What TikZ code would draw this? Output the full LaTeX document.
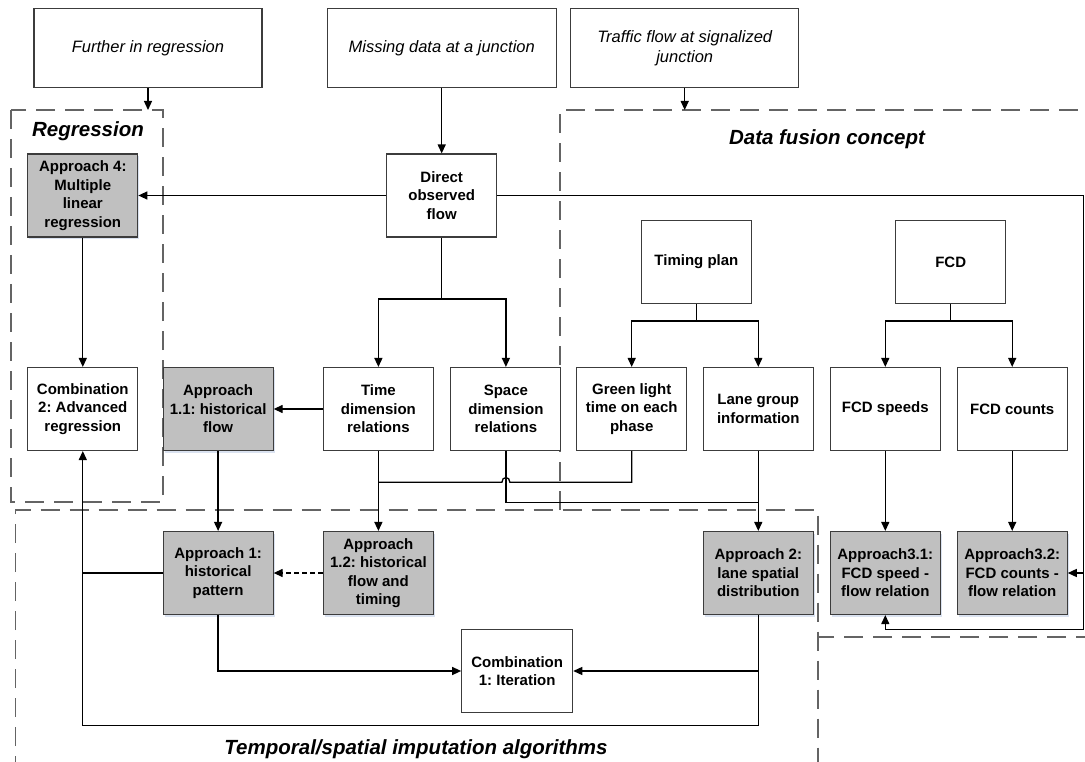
\documentclass[tikz,border=0pt]{standalone}
\usepackage{fontspec}
\setmainfont{Liberation Sans}
\usetikzlibrary{arrows.meta,shadows}
\definecolor{boxgray}{RGB}{192,192,192}
\definecolor{edgegray}{RGB}{60,60,60}
\definecolor{dashgray}{RGB}{100,100,100}
\definecolor{shadowblue}{RGB}{218,226,240}
\frenchspacing
\begin{document}
\begin{tikzpicture}[x=1pt,y=-1pt,
 box/.style={draw=edgegray, line width=1.1pt, fill=white, minimum width=110pt, minimum height=83pt, inner sep=1pt, align=center, font=\fontsize{15}{18.5}\selectfont\bfseries},
 gbox/.style={box, fill=boxgray, drop shadow={shadow xshift=1.5pt, shadow yshift=-2pt, fill=shadowblue, opacity=1}},
 topbox/.style={draw=edgegray, line width=1.1pt, fill=white, minimum height=79pt, inner sep=1pt, align=center, font=\fontsize{16.5}{20}\selectfont\itshape},
 conn/.style={line width=1.3pt, -{Triangle[length=9pt,width=8pt]}},
 plain/.style={line width=1.3pt},
 zone/.style={draw=dashgray, line width=1.3pt, dash pattern=on 19pt off 10pt},
 zonetitle/.style={font=\fontsize{20.5}{24}\selectfont\bfseries\itshape}
]
\useasboundingbox (0,0) rectangle (1085,762);

% dashed zones
\draw[zone] (11,110) rectangle (163,502);
\draw[zone] (1095,637) -- (818,637);
\draw[zone] (560,510) -- (560,110) -- (1095,110);
\draw[zone] (15.7,775) -- (15.7,510) -- (818,510) -- (818,775);

% zone titles
\node[zonetitle] (tReg) at (88,131.5) {Regression};
\node[zonetitle] (tDF) at (827,139) {Data fusion concept};
\node[zonetitle] (tTS) at (416,749) {Temporal/spatial imputation algorithms};

% top boxes
\node[topbox, minimum width=228pt] (fur) at (148,48) {Further in regression};
\node[topbox, minimum width=229pt] (mis) at (441.7,48) {Missing data at a junction};
\node[topbox, minimum width=228pt] (tra) at (684.7,48) {Traffic flow at signalized\\junction};

% row 1
\node[gbox] (a4) at (82.8,195.5) {Approach 4:\\Multiple\\linear\\regression};
\node[box] (dof) at (441.7,195.5) {Direct\\observed\\flow};
\node[box] (tp) at (696.4,262) {Timing plan};
\node[box] (fcd) at (950.7,262) {FCD};

% row 2
\node[box] (c2) at (82.8,409) {Combination\\2: Advanced\\regression};
\node[gbox] (a11) at (218.1,409) {Approach\\1.1: historical\\flow};
\node[box] (tdr) at (378.4,409) {Time\\dimension\\relations};
\node[box] (sdr) at (505.9,409) {Space\\dimension\\relations};
\node[box] (glt) at (631.7,409) {Green light\\time on each\\phase};
\node[box] (lgi) at (758.3,409) {Lane group\\information};
\node[box] (fs) at (885.3,409) {FCD speeds};
\node[box] (fc) at (1012.2,409) {FCD counts};

% row 3
\node[gbox] (a1) at (218.1,573) {Approach 1:\\historical\\pattern};
\node[gbox] (a12) at (378.4,573) {Approach\\1.2: historical\\flow and\\timing};
\node[gbox] (a2) at (758.3,573) {Approach 2:\\lane spatial\\distribution};
\node[gbox] (a31) at (885.3,573) {Approach3.1:\\FCD speed -\\flow relation};
\node[gbox] (a32) at (1012.2,573) {Approach3.2:\\FCD counts -\\flow relation};
\node[box, minimum width=111pt] (c1) at (517.2,671) {Combination\\1: Iteration};

% coordinates
\coordinate (regtop) at (148,110);
\coordinate (dftop) at (684.7,110);
\coordinate (rr1) at (1083.3,195.5);
\coordinate (rr2) at (1083.3,629.5);
\coordinate (dsplit) at (441.7,299);
\coordinate (tsplit) at (696.4,321);
\coordinate (fsplit) at (950.7,321);
\coordinate (gj) at (631.7,482.3);
\coordinate (sj) at (505.9,502.7);
\coordinate (bl) at (82.8,725.7);
\coordinate (br) at (758.3,725.7);

% connectors
\draw[conn] (fur) -- (regtop);
\draw[conn] (mis) -- (dof);
\draw[conn] (tra) -- (dftop);
\draw[conn] (dof) -- (a4);
\draw[conn] (dof.east) -- (rr1) -- (rr2) -- (a31.south |- rr2) -- (a31.south);
\draw[conn] (rr1 |- a32) -- (a32.east);

\draw[plain] (dof.south) -- (dsplit);
\draw[conn] (dsplit) -| (tdr.north);
\draw[conn] (dsplit) -| (sdr.north);

\draw[plain] (tp.south) -- (tsplit);
\draw[conn] (tsplit) -| (glt.north);
\draw[conn] (tsplit) -| (lgi.north);

\draw[plain] (fcd.south) -- (fsplit);
\draw[conn] (fsplit) -| (fs.north);
\draw[conn] (fsplit) -| (fc.north);

\draw[conn] (a4) -- (c2);
\draw[conn] (tdr) -- (a11);
\draw[conn] (a11) -- (a1);
\draw[conn] (tdr) -- (a12);
\draw[plain] (glt.south) -- (gj) -- (509.9,482.3) .. controls (509.9,476) and (501.9,476) .. (501.9,482.3) -- (tdr.south |- gj);
\draw[plain] (sdr.south) -- (sj) -- (lgi.south |- sj);
\draw[conn] (lgi) -- (a2);
\draw[conn] (fs) -- (a31);
\draw[conn] (fc) -- (a32);
\draw[conn, dash pattern=on 5pt off 3pt] (a12) -- (a1);

\draw[conn] (a2.south) -- (br) -- (bl) -- (c2.south);
\draw[plain] (a1.west) -- (a1.west -| bl);
\draw[conn] (a1.south) |- (c1.west);
\draw[conn] (a2.south |- c1) -- (c1.east);
\end{tikzpicture}
\end{document}
